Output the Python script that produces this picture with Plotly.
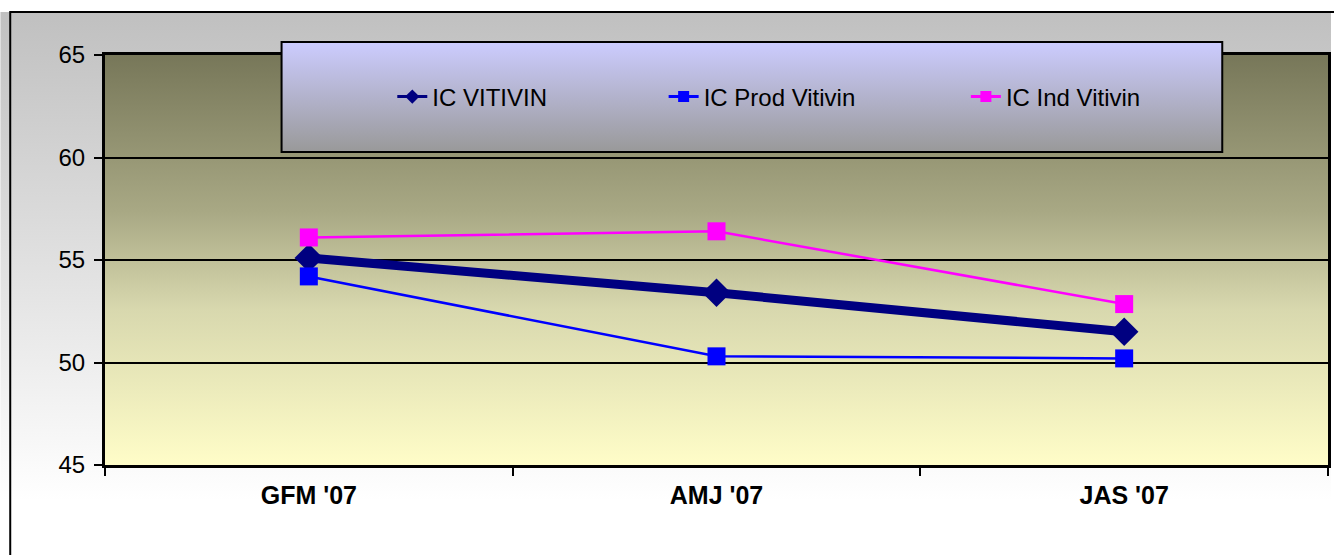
import base64
import plotly.graph_objects as go

# dati
trimestri = ["GFM '07", "AMJ '07", "JAS '07"]
ic_vitivin = [55.1, 53.4, 51.5]
ic_prod_vitivin = [54.2, 50.3, 50.2]
ic_ind_vitivin = [56.1, 56.4, 52.85]

W, H = 1334, 555
L, T = 105, 55
R = W - 1331
B = H - 465
PW, PH = W - L - R, H - T - B
FONT = "Liberation Sans, Arial, sans-serif"


def px(x):
    return (x - L) / PW


def py(y):
    return (H - B - y) / PH


def gradiente(stops):
    svg = ('<svg xmlns="http://www.w3.org/2000/svg" width="100" height="100" '
           'viewBox="0 0 100 100" preserveAspectRatio="none"><defs>'
           '<linearGradient id="g" x1="0" y1="0" x2="0" y2="1">'
           + "".join(f'<stop offset="{o}" stop-color="{c}"/>' for o, c in stops)
           + '</linearGradient></defs><rect width="100" height="100" fill="url(#g)"/></svg>')
    return "data:image/svg+xml;base64," + base64.b64encode(svg.encode()).decode()


def immagine(stops, x0, y0, x1, y1, layer):
    return dict(source=gradiente(stops), xref="paper", yref="paper",
                x=px(x0), y=py(y0), sizex=px(x1) - px(x0), sizey=py(y0) - py(y1),
                xanchor="left", yanchor="top", sizing="stretch", layer=layer)


fig = go.Figure()

serie = [
    ("IC VITIVIN", ic_vitivin, "#000080", "diamond", 22, 9, "legend"),
    ("IC Prod Vitivin", ic_prod_vitivin, "#0000ff", "square", 18, 2.5, "legend2"),
    ("IC Ind Vitivin", ic_ind_vitivin, "#ff00ff", "square", 18, 2.5, "legend3"),
]
for nome, valori, colore, simbolo, dim, spess, leg in serie:
    fig.add_trace(go.Scatter(
        x=trimestri, y=valori, name=nome, mode="lines+markers",
        line=dict(color=colore, width=spess),
        marker=dict(symbol=simbolo, size=dim, color=colore),
        showlegend=False, cliponaxis=False,
    ))
    # voce di legenda con linea sottile
    fig.add_trace(go.Scatter(
        x=[None], y=[None], name=nome, mode="lines+markers",
        line=dict(color=colore, width=3),
        marker=dict(symbol=simbolo, size=11, color=colore),
        legend=leg,
    ))

leg_y = py(97)
leg_font = dict(family=FONT, size=24, color="black")
legende = {}
for key, xs in [("legend", 393), ("legend2", 665), ("legend3", 968)]:
    legende[key] = dict(x=px(xs), y=leg_y, xanchor="left", yanchor="middle",
                        bgcolor="rgba(0,0,0,0)", borderwidth=0, font=leg_font,
                        orientation="h")

fig.update_layout(
    width=W, height=H,
    margin=dict(l=L, r=R, t=T, b=B),
    paper_bgcolor="white",
    plot_bgcolor="rgba(0,0,0,0)",
    font=dict(family=FONT, color="black"),
    images=[
        immagine([(0, "#c0c0c0"), (0.9, "#ffffff"), (1, "#ffffff")], 0, 12, W, H, "below"),
        immagine([(0, "#777759"), (0.38, "#a8a884"), (0.62, "#d8d8ae"), (1, "#fffdc8")],
                 105, 55, 1331, 465, "below"),
        immagine([(0, "#ccccff"), (1, "#999999")], 282, 42, 1225, 152, "above"),
    ],
    shapes=[
        dict(type="rect", xref="paper", yref="paper", x0=px(10), y0=py(12),
             x1=px(W + 30), y1=py(H + 30), line=dict(color="black", width=2),
             layer="below"),
        dict(type="rect", xref="paper", yref="paper", x0=px(282), y0=py(42),
             x1=px(1225), y1=py(152), line=dict(color="black", width=2),
             layer="above"),
    ],
    xaxis=dict(
        type="category", range=[-0.5, 2.5], showgrid=False, showline=True,
        linecolor="black", linewidth=3, mirror=True, ticks="outside",
        tickson="boundaries", ticklen=8, tickwidth=2, tickcolor="black",
        ticklabelstandoff=6,
        tickfont=dict(family=FONT, size=25, weight="bold", color="black"),
    ),
    yaxis=dict(
        range=[45, 65], dtick=5, showgrid=True, gridcolor="black", gridwidth=2,
        showline=True, linecolor="black", linewidth=3, mirror=True,
        ticks="outside", ticklen=8, tickwidth=2, tickcolor="black",
        ticklabelstandoff=4, zeroline=False,
        tickfont=dict(family=FONT, size=24, color="black"),
    ),
    **legende,
)

# pagina senza margini né barre di scorrimento
fig.write_html("out.html", config={"displayModeBar": False}, post_script=(
    "document.body.style.margin = '0';"
    "document.body.style.overflow = 'hidden';"
))
